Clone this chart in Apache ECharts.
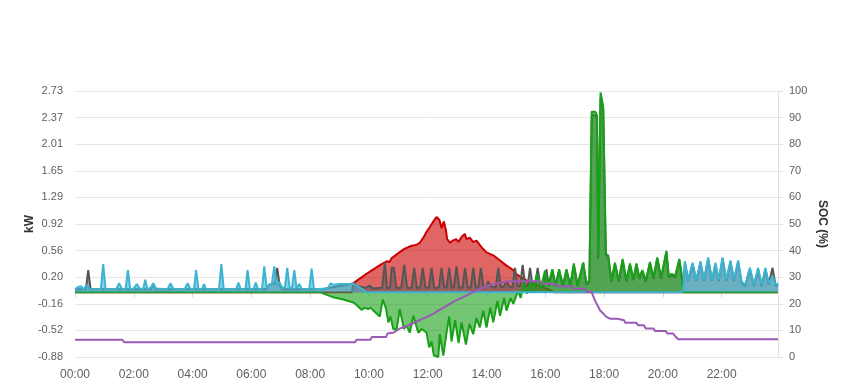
<!DOCTYPE html>
<html>
<head>
<meta charset="utf-8">
<script src="https://cdn.jsdelivr.net/npm/echarts@6/dist/echarts.min.js"></script>
<style>
html,body{margin:0;padding:0;background:#fff;}
#c{width:849px;height:390px;}
</style>
</head>
<body>
<div id="c"></div>
<script>
// ---- axis ticks / labels ----
const xTickValues = [0, 2, 4, 6, 8, 10, 12, 14, 16, 18, 20, 22];
const xTickLabels = ['00:00','02:00','04:00','06:00','08:00','10:00','12:00','14:00','16:00','18:00','20:00','22:00'];
const xEnd = 23.9167; // last sample 23:55
const kwLabels = ['-0.88','-0.52','-0.16','0.20','0.56','0.92','1.29','1.65','2.01','2.37','2.73'];
const kwMin = -0.88, kwMax = 2.73, kwStep = 0.361;
const socMin = 0, socMax = 100, socStep = 10;

// ---- series (hour of day, value) ----
const pvData = [
  [0,0],[9.42,0],[9.47,0.12],[9.6,0.16],[9.75,0.2],[9.92,0.25],[10.15,0.31],[10.43,0.38],[10.62,0.42],[10.7,0.41],
  [10.77,0.46],[11.0,0.53],[11.22,0.59],[11.45,0.63],[11.6,0.64],[11.73,0.67],[11.87,0.75],[11.96,0.82],[12.05,0.87],
  [12.19,0.96],[12.3,1.02],[12.4,0.98],[12.47,0.87],[12.55,0.96],[12.62,0.84],[12.66,0.72],[12.76,0.67],[12.85,0.70],
  [12.97,0.72],[13.05,0.68],[13.15,0.75],[13.26,0.79],[13.32,0.72],[13.43,0.74],[13.55,0.68],[13.66,0.70],[13.83,0.61],
  [14.0,0.54],[14.23,0.50],[14.46,0.43],[14.68,0.36],[14.91,0.30],[15.0,0.25],[15.14,0.21],[15.36,0.16],[15.6,0.12],
  [15.9,0.07],[16.1,0.04],[16.3,0],[xEnd,0]
];

const loadData = [
  [0,0.04],[0.37,0.04],[0.45,0.30],[0.53,0.04],[2.58,0.04],[2.66,0.11],[2.75,0.04],[6.5,0.04],[6.6,0.10],[6.8,0.12],
  [6.88,0.33],[6.96,0.10],[7.05,0.04],[8.4,0.04],[9.5,0.12],[9.6,0.08],[9.9,0.06],[10.03,0.09],[10.12,0.05],[10.45,0.06],
  [10.54,0.40],[10.62,0.05],[10.72,0.06],[10.77,0.33],[10.85,0.33],[10.93,0.06],[11.1,0.06],[11.2,0.37],[11.3,0.06],
  [11.45,0.06],[11.54,0.33],[11.63,0.06],[11.74,0.06],[11.83,0.33],[11.92,0.06],[12.04,0.06],[12.13,0.33],[12.22,0.06],
  [12.38,0.06],[12.47,0.33],[12.56,0.06],[12.64,0.06],[12.73,0.33],[12.82,0.06],[12.89,0.06],[12.98,0.35],[13.07,0.06],
  [13.18,0.06],[13.27,0.33],[13.36,0.06],[13.46,0.06],[13.55,0.33],[13.64,0.06],[13.72,0.06],[13.81,0.33],[13.9,0.06],
  [14.0,0.08],[14.06,0.15],[14.14,0.08],[14.31,0.06],[14.4,0.33],[14.49,0.06],[14.6,0.08],[14.68,0.15],[14.76,0.08],
  [14.88,0.06],[14.97,0.33],[15.06,0.08],[15.14,0.08],[15.23,0.37],[15.32,0.08],[15.4,0.08],[15.48,0.33],[15.57,0.08],
  [15.65,0.08],[15.74,0.33],[15.83,0.08],[15.95,0.08],[16.04,0.31],[16.12,0.08],[16.24,0.29],[16.35,0.08],[16.47,0.29],
  [16.6,0.08],[16.72,0.29],[16.85,0.08],[16.97,0.36],[17.1,0.08],[17.29,0.40],[17.4,0.10],[17.5,0.14],[17.58,2.40],
  [17.7,2.40],[17.76,2.35],[17.8,0.45],[17.88,2.65],[17.97,2.48],[18.06,0.50],[18.14,0.48],[18.25,0.14],[18.37,0.38],
  [18.5,0.14],[18.63,0.43],[18.76,0.14],[18.88,0.37],[19.0,0.16],[19.1,0.37],[19.2,0.18],[19.3,0.28],[19.42,0.14],
  [19.56,0.39],[19.68,0.18],[19.81,0.45],[19.94,0.18],[20.12,0.54],[20.2,0.20],[20.3,0.23],[20.42,0.20],[20.56,0.43],
  [20.62,0.28],[20.69,0.04],[20.75,0.40],[20.86,0.15],[21.01,0.38],[21.14,0.15],[21.28,0.40],[21.4,0.15],[21.54,0.45],
  [21.67,0.15],[21.79,0.38],[21.9,0.15],[22.03,0.45],[22.16,0.15],[22.3,0.41],[22.42,0.15],[22.56,0.41],[22.68,0.12],
  [22.8,0.08],[22.96,0.31],[23.1,0.08],[23.24,0.31],[23.36,0.08],[23.49,0.31],[23.6,0.10],[23.73,0.33],[23.84,0.08],[xEnd,0.10]
];

const batteryData = [
  [0,0],[8.33,0],[8.79,-0.07],[9.13,-0.10],[9.47,-0.14],[9.6,-0.18],[9.75,-0.24],[9.86,-0.21],[9.97,-0.23],[10.06,-0.21],
  [10.15,-0.25],[10.37,-0.33],[10.47,-0.10],[10.58,-0.22],[10.66,-0.41],[10.73,-0.33],[10.83,-0.50],[10.94,-0.51],
  [11.05,-0.23],[11.19,-0.50],[11.28,-0.45],[11.39,-0.55],[11.51,-0.32],[11.68,-0.55],[11.8,-0.50],[11.96,-0.55],
  [12.05,-0.75],[12.13,-0.67],[12.21,-0.86],[12.36,-0.88],[12.41,-0.57],[12.53,-0.86],[12.64,-0.55],[12.73,-0.33],
  [12.81,-0.67],[12.93,-0.38],[13.05,-0.69],[13.15,-0.41],[13.3,-0.71],[13.42,-0.43],[13.55,-0.57],[13.66,-0.35],
  [13.77,-0.48],[13.89,-0.25],[14.0,-0.48],[14.13,-0.21],[14.23,-0.41],[14.37,-0.12],[14.46,-0.32],[14.6,-0.08],
  [14.68,-0.25],[14.82,-0.08],[14.91,-0.16],[15.08,0.02],[15.16,-0.08],[15.27,0.13],[15.38,-0.02],[15.5,0.15],
  [15.6,0.05],[15.72,0.25],[15.85,0.06],[15.99,0.29],[16.1,0.09],[16.24,0.31],[16.35,0.09],[16.47,0.31],[16.6,0.09],
  [16.72,0.31],[16.85,0.09],[16.97,0.39],[17.1,0.09],[17.29,0.40],[17.4,0.12],[17.5,0.16],[17.58,2.45],[17.7,2.45],
  [17.76,2.40],[17.8,0.47],[17.88,2.71],[17.97,2.52],[18.06,0.52],[18.14,0.50],[18.25,0.16],[18.37,0.40],[18.5,0.16],
  [18.63,0.45],[18.76,0.16],[18.88,0.39],[19.0,0.18],[19.1,0.39],[19.2,0.20],[19.3,0.30],[19.42,0.16],[19.56,0.41],
  [19.68,0.20],[19.81,0.47],[19.94,0.20],[20.12,0.56],[20.2,0.22],[20.3,0.25],[20.42,0.22],[20.56,0.45],[20.62,0.30],
  [20.69,0],[xEnd,0]
];

const gridData = [
  [0,0.04],[0.1,0.07],[0.2,0.08],[0.3,0.04],[0.4,0.10],[0.5,0.04],[0.88,0.04],[0.96,0.38],[1.04,0.04],[1.4,0.04],
  [1.5,0.12],[1.6,0.04],[1.72,0.04],[1.8,0.30],[1.88,0.04],[2.0,0.05],[2.1,0.11],[2.2,0.05],[2.32,0.04],[2.39,0.17],
  [2.46,0.04],[2.58,0.06],[2.66,0.12],[2.75,0.05],[3.15,0.04],[3.25,0.12],[3.35,0.04],[3.73,0.04],[3.83,0.12],[3.93,0.04],
  [4.05,0.04],[4.12,0.30],[4.2,0.04],[4.32,0.04],[4.39,0.11],[4.46,0.04],[4.9,0.04],[4.98,0.38],[5.06,0.04],[5.48,0.04],
  [5.56,0.13],[5.64,0.04],[5.8,0.04],[5.87,0.30],[5.95,0.04],[6.07,0.04],[6.15,0.13],[6.23,0.04],[6.36,0.04],[6.44,0.35],
  [6.52,0.06],[6.62,0.10],[6.7,0.12],[6.78,0.35],[6.86,0.10],[6.95,0.14],[7.05,0.06],[7.14,0.06],[7.22,0.33],[7.3,0.06],
  [7.38,0.05],[7.46,0.30],[7.54,0.05],[7.63,0.11],[7.72,0.04],[7.97,0.04],[8.05,0.32],[8.13,0.04],[8.6,0.05],[8.7,0.12],
  [8.8,0.10],[9.0,0.11],[9.5,0.11],[9.7,0.06],[9.9,0.0],[20.66,0.0],[20.69,0.04],[20.75,0.42],[20.86,0.17],[21.01,0.40],
  [21.14,0.17],[21.28,0.42],[21.4,0.17],[21.54,0.47],[21.67,0.17],[21.79,0.40],[21.9,0.17],[22.03,0.47],[22.16,0.17],
  [22.3,0.43],[22.42,0.17],[22.56,0.43],[22.68,0.14],[22.8,0.10],[22.96,0.33],[23.1,0.10],[23.24,0.33],[23.36,0.10],
  [23.49,0.33],[23.6,0.12],[23.73,0.22],[23.84,0.10],[xEnd,0.12]
];

const socData = [
  [0,6.5],[1.6,6.5],[1.68,5.5],[9.52,5.5],[9.58,6.5],[10.05,6.5],[10.1,7.5],[10.58,7.5],[10.63,8.8],[10.85,9.2],
  [11.05,10.7],[11.25,11.5],[11.5,12.6],[11.7,13.8],[11.96,15.0],[12.2,16.3],[12.41,17.8],[12.65,19.2],[12.87,20.7],
  [13.1,22.0],[13.33,23.2],[13.55,24.5],[13.78,25.7],[14.0,26.6],[14.23,27.4],[14.5,28.0],[14.8,28.5],[15.82,28.5],
  [15.87,27.6],[16.35,27.4],[16.4,26.6],[16.9,26.6],[16.95,25.7],[17.35,25.7],[17.4,24.5],[17.57,24.5],[17.69,21.3],
  [17.86,17.6],[18.08,15.1],[18.2,14.4],[18.45,14.4],[18.5,13.8],[18.68,13.8],[18.72,12.9],[19.1,12.9],[19.15,11.9],
  [19.35,11.9],[19.42,10.7],[19.68,10.7],[19.73,9.8],[20.1,9.8],[20.15,8.8],[20.35,8.8],[20.42,7.8],[20.52,6.7],[xEnd,6.7]
];

const FONT = 'Liberation Sans, Arial, sans-serif';
const chart = echarts.init(document.getElementById('c'), null, {renderer: 'canvas'});

function areaLine(name, data, color, opacity, width, z) {
  return {
    name, type: 'line', data, yAxisIndex: 0, showSymbol: false, symbol: 'none',
    lineStyle: {color, width}, itemStyle: {color},
    areaStyle: {color, opacity}, z, animation: false
  };
}

chart.setOption({
  animation: false,
  grid: {left: 75, right: 71, top: 91, bottom: 33},
  xAxis: {
    type: 'value', min: 0, max: xEnd,
    axisLine: {show: true, lineStyle: {color: '#ccd6eb', width: 1}},
    axisTick: {show: true, length: 5, lineStyle: {color: '#ccd6eb'}, customValues: xTickValues},
    axisLabel: {
      customValues: xTickValues, color: '#606060', fontSize: 12, fontFamily: FONT, margin: 12,
      formatter: v => { const i = xTickValues.indexOf(v); return i >= 0 ? xTickLabels[i] : ''; }
    },
    splitLine: {show: false}
  },
  yAxis: [
    {
      type: 'value', min: kwMin, max: kwMax, interval: kwStep, position: 'left',
      name: 'kW', nameLocation: 'middle', nameRotate: 90, nameGap: 39, nameMoveOverlap: false,
      nameTextStyle: {color: '#333', fontWeight: 'bold', fontSize: 12, fontFamily: FONT},
      axisLine: {show: false}, axisTick: {show: false},
      axisLabel: {
        color: '#606060', fontSize: 11, fontFamily: FONT, margin: 12,
        formatter: v => {
          let best = kwLabels[0], d = Infinity;
          kwLabels.forEach(l => { const dd = Math.abs(parseFloat(l) - v); if (dd < d) { d = dd; best = l; } });
          return best;
        }
      },
      splitLine: {show: true, lineStyle: {color: '#e6e6e6', width: 1}}
    },
    {
      type: 'value', min: socMin, max: socMax, interval: socStep, position: 'right',
      name: 'SOC (%)', nameLocation: 'middle', nameRotate: -90, nameGap: 38, nameMoveOverlap: false,
      nameTextStyle: {color: '#333', fontWeight: 'bold', fontSize: 12, fontFamily: FONT},
      axisLine: {show: true, lineStyle: {color: '#e0e0e0', width: 1}},
      axisTick: {show: true, length: 5, lineStyle: {color: '#e0e0e0'}},
      axisLabel: {color: '#606060', fontSize: 11, fontFamily: FONT, margin: 11},
      splitLine: {show: false}
    }
  ],
  series: [
    areaLine('PV', pvData, '#cc0000', 0.6, 2, 2),
    areaLine('Load', loadData, '#555555', 0.5, 2, 3),
    areaLine('Battery', batteryData, '#18a018', 0.6, 2, 4),
    areaLine('Grid', gridData, '#3cb4d2', 0.6, 2, 5),
    {
      name: 'SOC', type: 'line', data: socData, yAxisIndex: 1, showSymbol: false, symbol: 'none',
      lineStyle: {color: '#9b59b6', width: 2}, itemStyle: {color: '#9b59b6'}, z: 6, animation: false
    }
  ]
});
</script>
</body>
</html>
